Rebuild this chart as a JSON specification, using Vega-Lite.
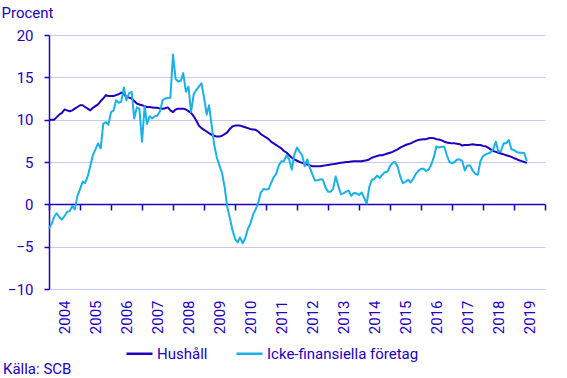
{
  "$schema": "https://vega.github.io/schema/vega-lite/v6.json",
  "width": 496,
  "height": 254,
  "autosize": {"type": "none"},
  "padding": {"left": 49, "top": 35, "right": 22, "bottom": 89},
  "config": {
    "font": "Roboto",
    "view": {"stroke": null},
    "axis": {"labelColor": "#1e00be", "titleColor": "#1e00be", "labelFontSize": 15, "titleFontSize": 15, "titleFontWeight": "normal", "domainColor": "#1e00be", "tickColor": "#1e00be", "domainWidth": 1.5, "tickWidth": 1.5},
    "legend": {"labelColor": "#1e00be", "labelFontSize": 15}
  },
  "title": {"text": "Källa: SCB", "orient": "bottom", "anchor": "start", "frame": "group", "offset": 0, "dx": -46, "fontSize": 15, "fontWeight": "normal", "color": "#1e00be", "font": "Roboto"},
  "data": {"values": [
    {"d": "2004-01-01", "Hushåll": 10.0, "Icke-finansiella företag": -2.85},
    {"d": "2004-02-01", "Hushåll": 10.0, "Icke-finansiella företag": -2.3},
    {"d": "2004-03-01", "Hushåll": 10.0, "Icke-finansiella företag": -1.5},
    {"d": "2004-04-01", "Hushåll": 10.3, "Icke-finansiella företag": -1.05},
    {"d": "2004-05-01", "Hushåll": 10.6, "Icke-finansiella företag": -1.5},
    {"d": "2004-06-01", "Hushåll": 10.8, "Icke-finansiella företag": -1.8},
    {"d": "2004-07-01", "Hushåll": 11.2, "Icke-finansiella företag": -1.4},
    {"d": "2004-08-01", "Hushåll": 11.1, "Icke-finansiella företag": -0.9},
    {"d": "2004-09-01", "Hushåll": 11.0, "Icke-finansiella företag": -0.8},
    {"d": "2004-10-01", "Hushåll": 11.1, "Icke-finansiella företag": -0.2},
    {"d": "2004-11-01", "Hushåll": 11.3, "Icke-finansiella företag": -0.6},
    {"d": "2004-12-01", "Hushåll": 11.5, "Icke-finansiella företag": 1.0},
    {"d": "2005-01-01", "Hushåll": 11.7, "Icke-finansiella företag": 1.8},
    {"d": "2005-02-01", "Hushåll": 11.7, "Icke-finansiella företag": 2.7},
    {"d": "2005-03-01", "Hushåll": 11.5, "Icke-finansiella företag": 2.5},
    {"d": "2005-04-01", "Hushåll": 11.3, "Icke-finansiella företag": 3.3},
    {"d": "2005-05-01", "Hushåll": 11.1, "Icke-finansiella företag": 4.5},
    {"d": "2005-06-01", "Hushåll": 11.4, "Icke-finansiella företag": 5.8},
    {"d": "2005-07-01", "Hushåll": 11.6, "Icke-finansiella företag": 6.5},
    {"d": "2005-08-01", "Hushåll": 11.8, "Icke-finansiella företag": 7.2},
    {"d": "2005-09-01", "Hushåll": 12.2, "Icke-finansiella företag": 6.6},
    {"d": "2005-10-01", "Hushåll": 12.5, "Icke-finansiella företag": 9.5},
    {"d": "2005-11-01", "Hushåll": 12.9, "Icke-finansiella företag": 9.7},
    {"d": "2005-12-01", "Hushåll": 12.8, "Icke-finansiella företag": 9.4},
    {"d": "2006-01-01", "Hushåll": 12.8, "Icke-finansiella företag": 10.9},
    {"d": "2006-02-01", "Hushåll": 12.8, "Icke-finansiella företag": 11.1},
    {"d": "2006-03-01", "Hushåll": 12.9, "Icke-finansiella företag": 12.3},
    {"d": "2006-04-01", "Hushåll": 13.0, "Icke-finansiella företag": 12.0},
    {"d": "2006-05-01", "Hushåll": 13.2, "Icke-finansiella företag": 12.1},
    {"d": "2006-06-01", "Hushåll": 13.0, "Icke-finansiella företag": 13.8},
    {"d": "2006-07-01", "Hushåll": 12.7, "Icke-finansiella företag": 12.3},
    {"d": "2006-08-01", "Hushåll": 12.6, "Icke-finansiella företag": 13.1},
    {"d": "2006-09-01", "Hushåll": 12.5, "Icke-finansiella företag": 13.3},
    {"d": "2006-10-01", "Hushåll": 12.2, "Icke-finansiella företag": 10.15},
    {"d": "2006-11-01", "Hushåll": 11.9, "Icke-finansiella företag": 11.45},
    {"d": "2006-12-01", "Hushåll": 11.8, "Icke-finansiella företag": 11.3},
    {"d": "2007-01-01", "Hushåll": 11.7, "Icke-finansiella företag": 7.4},
    {"d": "2007-02-01", "Hushåll": 11.6, "Icke-finansiella företag": 11.6},
    {"d": "2007-03-01", "Hushåll": 11.5, "Icke-finansiella företag": 9.5},
    {"d": "2007-04-01", "Hushåll": 11.5, "Icke-finansiella företag": 10.4},
    {"d": "2007-05-01", "Hushåll": 11.45, "Icke-finansiella företag": 10.15},
    {"d": "2007-06-01", "Hushåll": 11.4, "Icke-finansiella företag": 10.4},
    {"d": "2007-07-01", "Hushåll": 11.4, "Icke-finansiella företag": 10.5},
    {"d": "2007-08-01", "Hushåll": 11.3, "Icke-finansiella företag": 11.0},
    {"d": "2007-09-01", "Hushåll": 11.3, "Icke-finansiella företag": 12.3},
    {"d": "2007-10-01", "Hushåll": 11.35, "Icke-finansiella företag": 12.5},
    {"d": "2007-11-01", "Hushåll": 11.45, "Icke-finansiella företag": 12.55},
    {"d": "2007-12-01", "Hushåll": 11.1, "Icke-finansiella företag": 12.6},
    {"d": "2008-01-01", "Hushåll": 10.9, "Icke-finansiella företag": 17.7},
    {"d": "2008-02-01", "Hushåll": 11.2, "Icke-finansiella företag": 14.8},
    {"d": "2008-03-01", "Hushåll": 11.3, "Icke-finansiella företag": 14.5},
    {"d": "2008-04-01", "Hushåll": 11.3, "Icke-finansiella företag": 14.6},
    {"d": "2008-05-01", "Hushåll": 11.3, "Icke-finansiella företag": 15.5},
    {"d": "2008-06-01", "Hushåll": 11.2, "Icke-finansiella företag": 13.3},
    {"d": "2008-07-01", "Hushåll": 11.0, "Icke-finansiella företag": 13.9},
    {"d": "2008-08-01", "Hushåll": 10.8, "Icke-finansiella företag": 10.9},
    {"d": "2008-09-01", "Hushåll": 10.4, "Icke-finansiella företag": 13.0},
    {"d": "2008-10-01", "Hushåll": 9.9, "Icke-finansiella företag": 13.5},
    {"d": "2008-11-01", "Hushåll": 9.3, "Icke-finansiella företag": 13.9},
    {"d": "2008-12-01", "Hushåll": 9.0, "Icke-finansiella företag": 14.3},
    {"d": "2009-01-01", "Hushåll": 8.8, "Icke-finansiella företag": 12.6},
    {"d": "2009-02-01", "Hushåll": 8.6, "Icke-finansiella företag": 10.6},
    {"d": "2009-03-01", "Hushåll": 8.4, "Icke-finansiella företag": 11.7},
    {"d": "2009-04-01", "Hushåll": 8.2, "Icke-finansiella företag": 9.3},
    {"d": "2009-05-01", "Hushåll": 8.1, "Icke-finansiella företag": 7.0},
    {"d": "2009-06-01", "Hushåll": 8.0, "Icke-finansiella företag": 5.5},
    {"d": "2009-07-01", "Hushåll": 8.0, "Icke-finansiella företag": 4.6},
    {"d": "2009-08-01", "Hushåll": 8.1, "Icke-finansiella företag": 3.7},
    {"d": "2009-09-01", "Hushåll": 8.3, "Icke-finansiella företag": 2.0},
    {"d": "2009-10-01", "Hushåll": 8.5, "Icke-finansiella företag": -0.3},
    {"d": "2009-11-01", "Hushåll": 8.9, "Icke-finansiella företag": -1.6},
    {"d": "2009-12-01", "Hushåll": 9.2, "Icke-finansiella företag": -3.0},
    {"d": "2010-01-01", "Hushåll": 9.3, "Icke-finansiella företag": -4.1},
    {"d": "2010-02-01", "Hushåll": 9.3, "Icke-finansiella företag": -4.5},
    {"d": "2010-03-01", "Hushåll": 9.3, "Icke-finansiella företag": -3.9},
    {"d": "2010-04-01", "Hushåll": 9.2, "Icke-finansiella företag": -4.6},
    {"d": "2010-05-01", "Hushåll": 9.1, "Icke-finansiella företag": -4.0},
    {"d": "2010-06-01", "Hushåll": 9.0, "Icke-finansiella företag": -2.9},
    {"d": "2010-07-01", "Hushåll": 8.9, "Icke-finansiella företag": -2.3},
    {"d": "2010-08-01", "Hushåll": 8.85, "Icke-finansiella företag": -1.2},
    {"d": "2010-09-01", "Hushåll": 8.8, "Icke-finansiella företag": -0.6},
    {"d": "2010-10-01", "Hushåll": 8.6, "Icke-finansiella företag": 0.2},
    {"d": "2010-11-01", "Hushåll": 8.3, "Icke-finansiella företag": 1.4},
    {"d": "2010-12-01", "Hushåll": 8.1, "Icke-finansiella företag": 1.8},
    {"d": "2011-01-01", "Hushåll": 7.9, "Icke-finansiella företag": 1.75},
    {"d": "2011-02-01", "Hushåll": 7.7, "Icke-finansiella företag": 1.8},
    {"d": "2011-03-01", "Hushåll": 7.4, "Icke-finansiella företag": 2.5},
    {"d": "2011-04-01", "Hushåll": 7.2, "Icke-finansiella företag": 3.2},
    {"d": "2011-05-01", "Hushåll": 7.0, "Icke-finansiella företag": 3.6},
    {"d": "2011-06-01", "Hushåll": 6.8, "Icke-finansiella företag": 4.6},
    {"d": "2011-07-01", "Hushåll": 6.6, "Icke-finansiella företag": 5.1},
    {"d": "2011-08-01", "Hushåll": 6.3, "Icke-finansiella företag": 5.1},
    {"d": "2011-09-01", "Hushåll": 6.1, "Icke-finansiella företag": 5.8},
    {"d": "2011-10-01", "Hushåll": 5.8, "Icke-finansiella företag": 5.3},
    {"d": "2011-11-01", "Hushåll": 5.5, "Icke-finansiella företag": 4.1},
    {"d": "2011-12-01", "Hushåll": 5.3, "Icke-finansiella företag": 5.9},
    {"d": "2012-01-01", "Hushåll": 5.15, "Icke-finansiella företag": 6.7},
    {"d": "2012-02-01", "Hushåll": 5.0, "Icke-finansiella företag": 6.2},
    {"d": "2012-03-01", "Hushåll": 4.9, "Icke-finansiella företag": 5.8},
    {"d": "2012-04-01", "Hushåll": 4.8, "Icke-finansiella företag": 4.5},
    {"d": "2012-05-01", "Hushåll": 4.7, "Icke-finansiella företag": 5.3},
    {"d": "2012-06-01", "Hushåll": 4.6, "Icke-finansiella företag": 4.3},
    {"d": "2012-07-01", "Hushåll": 4.5, "Icke-finansiella företag": 3.5},
    {"d": "2012-08-01", "Hushåll": 4.5, "Icke-finansiella företag": 2.8},
    {"d": "2012-09-01", "Hushåll": 4.5, "Icke-finansiella företag": 2.85},
    {"d": "2012-10-01", "Hushåll": 4.5, "Icke-finansiella företag": 2.95},
    {"d": "2012-11-01", "Hushåll": 4.55, "Icke-finansiella företag": 2.9},
    {"d": "2012-12-01", "Hushåll": 4.6, "Icke-finansiella företag": 2.0},
    {"d": "2013-01-01", "Hushåll": 4.65, "Icke-finansiella företag": 1.5},
    {"d": "2013-02-01", "Hushåll": 4.7, "Icke-finansiella företag": 1.5},
    {"d": "2013-03-01", "Hushåll": 4.75, "Icke-finansiella företag": 1.8},
    {"d": "2013-04-01", "Hushåll": 4.8, "Icke-finansiella företag": 3.3},
    {"d": "2013-05-01", "Hushåll": 4.85, "Icke-finansiella företag": 2.2},
    {"d": "2013-06-01", "Hushåll": 4.9, "Icke-finansiella företag": 1.2},
    {"d": "2013-07-01", "Hushåll": 4.95, "Icke-finansiella företag": 1.3},
    {"d": "2013-08-01", "Hushåll": 5.0, "Icke-finansiella företag": 1.5},
    {"d": "2013-09-01", "Hushåll": 5.0, "Icke-finansiella företag": 1.6},
    {"d": "2013-10-01", "Hushåll": 5.05, "Icke-finansiella företag": 1.0},
    {"d": "2013-11-01", "Hushåll": 5.1, "Icke-finansiella företag": 1.35},
    {"d": "2013-12-01", "Hushåll": 5.1, "Icke-finansiella företag": 1.3},
    {"d": "2014-01-01", "Hushåll": 5.1, "Icke-finansiella företag": 1.1},
    {"d": "2014-02-01", "Hushåll": 5.1, "Icke-finansiella företag": 1.4},
    {"d": "2014-03-01", "Hushåll": 5.15, "Icke-finansiella företag": 0.8},
    {"d": "2014-04-01", "Hushåll": 5.2, "Icke-finansiella företag": 0.1},
    {"d": "2014-05-01", "Hushåll": 5.3, "Icke-finansiella företag": 2.0},
    {"d": "2014-06-01", "Hushåll": 5.5, "Icke-finansiella företag": 2.9},
    {"d": "2014-07-01", "Hushåll": 5.6, "Icke-finansiella företag": 3.0},
    {"d": "2014-08-01", "Hushåll": 5.7, "Icke-finansiella företag": 3.4},
    {"d": "2014-09-01", "Hushåll": 5.8, "Icke-finansiella företag": 3.1},
    {"d": "2014-10-01", "Hushåll": 5.8, "Icke-finansiella företag": 3.5},
    {"d": "2014-11-01", "Hushåll": 5.9, "Icke-finansiella företag": 3.8},
    {"d": "2014-12-01", "Hushåll": 6.0, "Icke-finansiella företag": 3.85},
    {"d": "2015-01-01", "Hushåll": 6.1, "Icke-finansiella företag": 4.5},
    {"d": "2015-02-01", "Hushåll": 6.2, "Icke-finansiella företag": 4.9},
    {"d": "2015-03-01", "Hushåll": 6.35, "Icke-finansiella företag": 5.0},
    {"d": "2015-04-01", "Hushåll": 6.5, "Icke-finansiella företag": 4.45},
    {"d": "2015-05-01", "Hushåll": 6.7, "Icke-finansiella företag": 3.3},
    {"d": "2015-06-01", "Hushåll": 6.85, "Icke-finansiella företag": 2.5},
    {"d": "2015-07-01", "Hushåll": 7.0, "Icke-finansiella företag": 2.65},
    {"d": "2015-08-01", "Hushåll": 7.1, "Icke-finansiella företag": 2.9},
    {"d": "2015-09-01", "Hushåll": 7.2, "Icke-finansiella företag": 2.6},
    {"d": "2015-10-01", "Hushåll": 7.35, "Icke-finansiella företag": 3.0},
    {"d": "2015-11-01", "Hushåll": 7.5, "Icke-finansiella företag": 3.6},
    {"d": "2015-12-01", "Hushåll": 7.6, "Icke-finansiella företag": 3.95},
    {"d": "2016-01-01", "Hushåll": 7.65, "Icke-finansiella företag": 4.2},
    {"d": "2016-02-01", "Hushåll": 7.7, "Icke-finansiella företag": 4.2},
    {"d": "2016-03-01", "Hushåll": 7.7, "Icke-finansiella företag": 3.95},
    {"d": "2016-04-01", "Hushåll": 7.8, "Icke-finansiella företag": 4.1},
    {"d": "2016-05-01", "Hushåll": 7.85, "Icke-finansiella företag": 4.7},
    {"d": "2016-06-01", "Hushåll": 7.8, "Icke-finansiella företag": 5.6},
    {"d": "2016-07-01", "Hushåll": 7.7, "Icke-finansiella företag": 6.85},
    {"d": "2016-08-01", "Hushåll": 7.65, "Icke-finansiella företag": 6.7},
    {"d": "2016-09-01", "Hushåll": 7.55, "Icke-finansiella företag": 6.8},
    {"d": "2016-10-01", "Hushåll": 7.4, "Icke-finansiella företag": 6.8},
    {"d": "2016-11-01", "Hushåll": 7.3, "Icke-finansiella företag": 5.8},
    {"d": "2016-12-01", "Hushåll": 7.25, "Icke-finansiella företag": 5.0},
    {"d": "2017-01-01", "Hushåll": 7.2, "Icke-finansiella företag": 4.85},
    {"d": "2017-02-01", "Hushåll": 7.2, "Icke-finansiella företag": 5.0},
    {"d": "2017-03-01", "Hushåll": 7.15, "Icke-finansiella företag": 5.3},
    {"d": "2017-04-01", "Hushåll": 7.1, "Icke-finansiella företag": 5.3},
    {"d": "2017-05-01", "Hushåll": 6.95, "Icke-finansiella företag": 5.1},
    {"d": "2017-06-01", "Hushåll": 7.0, "Icke-finansiella företag": 4.0},
    {"d": "2017-07-01", "Hushåll": 7.0, "Icke-finansiella företag": 4.6},
    {"d": "2017-08-01", "Hushåll": 7.05, "Icke-finansiella företag": 4.6},
    {"d": "2017-09-01", "Hushåll": 7.1, "Icke-finansiella företag": 4.0},
    {"d": "2017-10-01", "Hushåll": 7.05, "Icke-finansiella företag": 3.6},
    {"d": "2017-11-01", "Hushåll": 7.0, "Icke-finansiella företag": 3.5},
    {"d": "2017-12-01", "Hushåll": 7.0, "Icke-finansiella företag": 5.1},
    {"d": "2018-01-01", "Hushåll": 6.9, "Icke-finansiella företag": 5.7},
    {"d": "2018-02-01", "Hushåll": 6.85, "Icke-finansiella företag": 5.9},
    {"d": "2018-03-01", "Hushåll": 6.7, "Icke-finansiella företag": 6.0},
    {"d": "2018-04-01", "Hushåll": 6.5, "Icke-finansiella företag": 6.15},
    {"d": "2018-05-01", "Hushåll": 6.3, "Icke-finansiella företag": 6.5},
    {"d": "2018-06-01", "Hushåll": 6.2, "Icke-finansiella företag": 7.4},
    {"d": "2018-07-01", "Hushåll": 6.1, "Icke-finansiella företag": 6.2},
    {"d": "2018-08-01", "Hushåll": 6.0, "Icke-finansiella företag": 6.3},
    {"d": "2018-09-01", "Hushåll": 5.9, "Icke-finansiella företag": 7.2},
    {"d": "2018-10-01", "Hushåll": 5.8, "Icke-finansiella företag": 7.2},
    {"d": "2018-11-01", "Hushåll": 5.7, "Icke-finansiella företag": 7.6},
    {"d": "2018-12-01", "Hushåll": 5.6, "Icke-finansiella företag": 6.5},
    {"d": "2019-01-01", "Hushåll": 5.45, "Icke-finansiella företag": 6.4},
    {"d": "2019-02-01", "Hushåll": 5.35, "Icke-finansiella företag": 6.2},
    {"d": "2019-03-01", "Hushåll": 5.2, "Icke-finansiella företag": 6.1},
    {"d": "2019-04-01", "Hushåll": 5.1, "Icke-finansiella företag": 6.1},
    {"d": "2019-05-01", "Hushåll": 5.0, "Icke-finansiella företag": 6.05},
    {"d": "2019-06-01", "Hushåll": 4.9, "Icke-finansiella företag": 5.1}
  ]},
  "transform": [{"fold": ["Hushåll", "Icke-finansiella företag"], "as": ["serie", "varde"]}],
  "mark": {"type": "line", "strokeWidth": 2, "strokeJoin": "round"},
  "encoding": {
    "x": {
      "field": "d", "type": "temporal",
      "scale": {"type": "utc", "domain": [{"year": 2004, "month": 1, "date": 1, "utc": true}, {"year": 2020, "month": 1, "date": 1, "utc": true}]},
      "axis": {
        "title": null, "offset": -85, "grid": false, "tickSize": 6,
        "tickCount": {"interval": "year", "step": 1},
        "format": "%Y",
        "labelExpr": "utcyear(datum.value) >= 2020 ? '' : datum.label",
        "labelAngle": -90, "labelAlign": "right", "labelBaseline": "middle",
        "labelPadding": 90, "labelOffset": 15.5,
        "labelOverlap": false, "labelFlush": false, "labelBound": false
      }
    },
    "y": {
      "field": "varde", "type": "quantitative",
      "scale": {"domain": [-10, 20], "nice": false, "zero": false},
      "axis": {
        "title": "Procent", "titleAngle": 0, "titleX": -48, "titleY": -18, "titleAlign": "left", "titleBaseline": "alphabetic",
        "values": [-10, -5, 0, 5, 10, 15, 20],
        "gridColor": "#c8cbef", "gridWidth": 1, "tickSize": 5, "labelPadding": 11
      }
    },
    "color": {
      "field": "serie", "type": "nominal",
      "scale": {"domain": ["Hushåll", "Icke-finansiella företag"], "range": ["#1e00be", "#19b1e8"]},
      "legend": {
        "title": null, "orient": "none", "legendX": 76, "legendY": 304, "direction": "horizontal",
        "symbolType": "stroke", "symbolSize": 676, "symbolStrokeWidth": 2.5, "labelOffset": 3, "columnPadding": 23
      }
    }
  }
}
